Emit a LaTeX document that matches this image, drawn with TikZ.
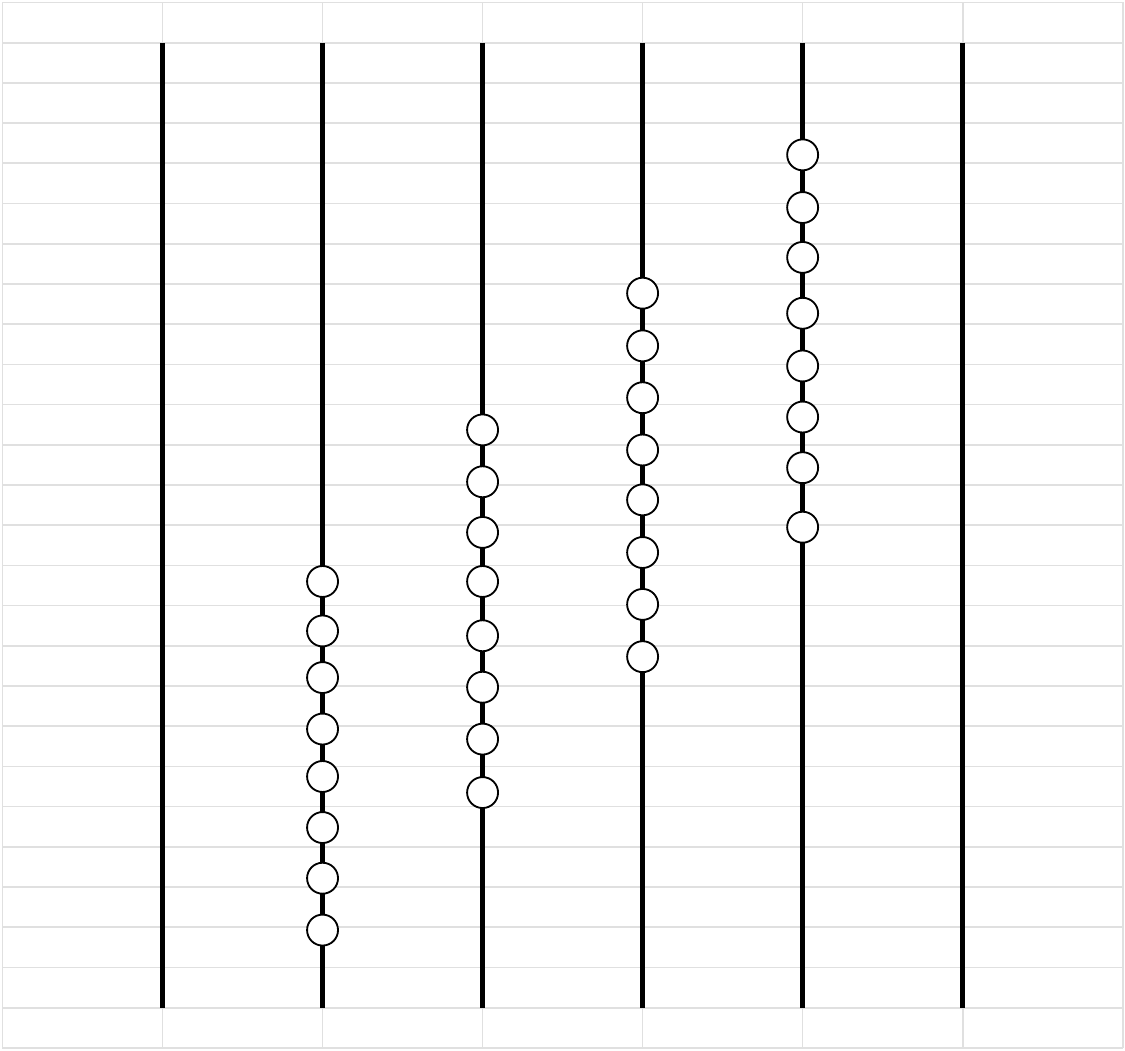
\documentclass[tikz,border=0pt]{standalone}
\tikzset{
  gridline/.style={draw=black!12, line width=1.2pt},
  rod/.style={draw=black, line width=4pt},
  bead/.style={circle, draw=black, line width=1.3pt, fill=white, minimum size=0.77cm, inner sep=0pt}
}

\begin{document}
\begin{tikzpicture}[x=3.98cm, y=1cm]
  \useasboundingbox (-0.0156,-0.075) rectangle (7.0144,26.062);
  % grid
  \foreach \i in {0,...,7}
    \draw[gridline] (\i,0) -- (\i,26);
  \foreach \j in {0,...,26}
    \draw[gridline] (0,\j) -- (7,\j);
  % rods
  \foreach \c in {1,...,6} {
    \coordinate (bot\c) at (\c,1);
    \coordinate (top\c) at (\c,25);
    \draw[rod] (bot\c) -- (top\c);
  }
  % beads
  \foreach \y [count=\k] in {11.60,10.37,9.21,7.93,6.75,5.48,4.22,2.93}
    \node[bead] (b2-\k) at (2,\y) {};
  \foreach \y [count=\k] in {15.37,14.08,12.82,11.60,10.25,8.97,7.68,6.35}
    \node[bead] (b3-\k) at (3,\y) {};
  \foreach \y [count=\k] in {18.77,17.46,16.17,14.87,13.63,12.32,11.03,9.73}
    \node[bead] (b4-\k) at (4,\y) {};
  \foreach \y [count=\k] in {22.21,20.90,19.66,18.27,16.96,15.69,14.43,12.95}
    \node[bead] (b5-\k) at (5,\y) {};
\end{tikzpicture}
\end{document}
